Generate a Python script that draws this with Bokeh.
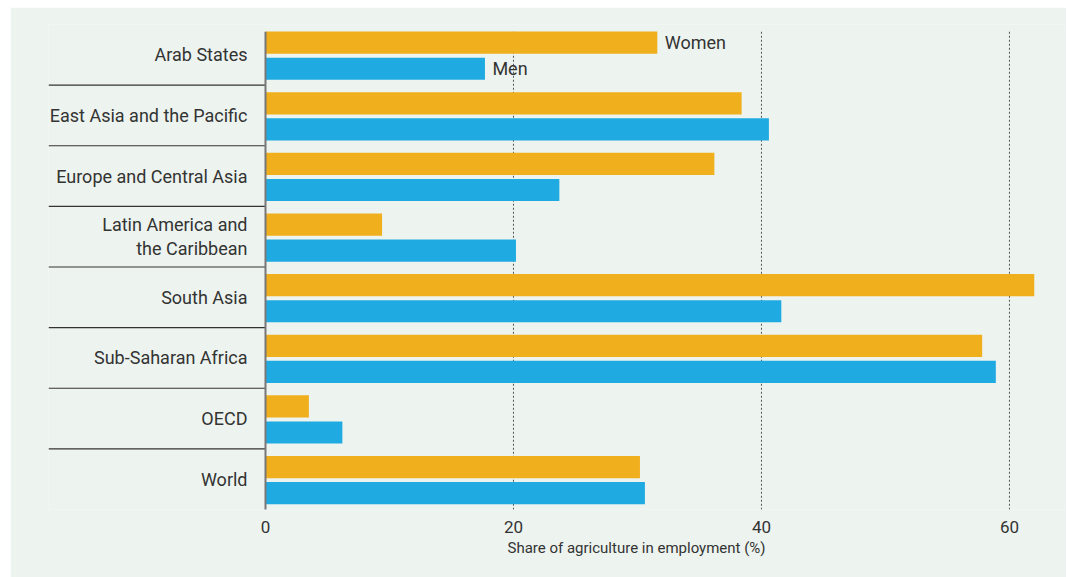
from bokeh.plotting import figure
from bokeh.models import Range1d, FixedTicker, Title, ColumnDataSource
from bokeh.core.properties import value
from bokeh.embed import file_html
from bokeh.resources import INLINE

regions = ["Arab States", "East Asia and the Pacific", "Europe and Central Asia",
           "Latin America and\nthe Caribbean", "South Asia", "Sub-Saharan Africa",
           "OECD", "World"]
women = [31.6, 38.4, 36.2, 9.4, 62.0, 57.8, 3.5, 30.2]
men = [17.7, 40.6, 23.7, 20.2, 41.6, 58.9, 6.2, 30.6]
x_ticks = [0, 20, 40, 60]
x_title = "Share of agriculture in employment (%)"

BG = "#edf3ef"
ORANGE = "#f0af1d"
BLUE = "#1fabe2"
TXT = "#333333"
FONT = "Roboto"

n = len(regions)
idx = list(range(n))

p = figure(width=1056, height=570, output_backend="svg", toolbar_location=None,
           x_range=Range1d(-17.5, 64.6), y_range=Range1d(n, 0),
           y_axis_location=None, min_border_left=38, min_border_right=0,
           min_border_top=17, min_border_bottom=68)
p.margin = (7, 1, 0, 10)
p.background_fill_color = BG
p.border_fill_color = BG
p.outline_line_color = None
p.xgrid.grid_line_color = None
p.ygrid.grid_line_color = None

# axis
ax = p.xaxis[0]
ax.ticker = FixedTicker(ticks=x_ticks)
ax.axis_line_color = None
ax.major_tick_line_color = None
ax.minor_tick_line_color = None
ax.major_label_text_font = FONT
ax.major_label_text_font_size = "17px"
ax.major_label_text_color = TXT
ax.major_label_standoff = 5

# axis title, placed under the tick labels
p.add_layout(Title(text=x_title, align="left", offset=459, text_font=FONT,
                   text_font_size="15px", text_font_style="normal",
                   text_color=TXT, standoff=2), "below")

# separators between groups (in the label area)
sep_y = [i for i in range(1, n)]
p.segment(x0=[-17.5] * len(sep_y), x1=[0] * len(sep_y), y0=sep_y, y1=sep_y,
          line_color="#333333", line_width=1.2)

# dotted grid lines
grid_x = [t for t in x_ticks if t > 0]
p.segment(x0=grid_x, x1=grid_x, y0=[0.12] * len(grid_x), y1=[n + 0.05] * len(grid_x),
          line_color="#555555", line_width=1, line_dash="2 2")

# bars
bar_h = 0.365
src = ColumnDataSource(dict(yw=[i + 0.30 for i in idx], ym=[i + 0.73 for i in idx],
                            women=women, men=men))
p.hbar(y="yw", left=0, right="women", height=bar_h, source=src,
       fill_color=ORANGE, line_color=None)
p.hbar(y="ym", left=0, right="men", height=bar_h, source=src,
       fill_color=BLUE, line_color=None)

# zero line
p.segment(x0=[0], x1=[0], y0=[0.12], y1=[n + 0.05], line_color="#777777", line_width=2)

# category labels
p.text(x=[-1.45] * n, y=[i + 0.5 for i in idx], text=regions,
       text_align="right", text_baseline="middle", text_font=value(FONT),
       text_font_size="18px", text_color=TXT, text_line_height=1.15)

# series labels next to first group
p.text(x=[women[0] + 0.6, men[0] + 0.6], y=[0.30, 0.73], text=["Women", "Men"],
       text_align="left", text_baseline="middle", text_font=value(FONT),
       text_font_size="18px", text_color=TXT)

open("out.html", "w").write(file_html(p, INLINE))
